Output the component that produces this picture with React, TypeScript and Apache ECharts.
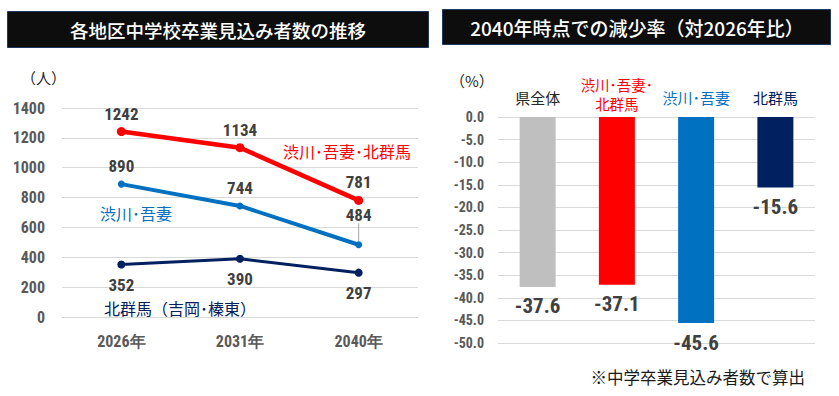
import { useEffect, useRef } from "react";
import * as echarts from "echarts";

// ---- data ----
const years = ["2026年", "2031年", "2040年"];
const seriesNames = ["渋川･吾妻･北群馬", "渋川･吾妻", "北群馬（吉岡･榛東）"];
const valuesAll = [1242, 1134, 781];
const valuesShibukawa = [890, 744, 484];
const valuesKitaGunma = [352, 390, 297];

const regions = ["県全体", "渋川･吾妻･\n北群馬", "渋川･吾妻", "北群馬"];
const declineRates = [-37.6, -37.1, -45.6, -15.6];

const RED = "#FF0000";
const BLUE = "#0070C0";
const NAVY = "#002060";
const GRAY = "#BFBFBF";
const barColors = [GRAY, RED, BLUE, NAVY];

const NUM = "'Roboto Condensed', Roboto, sans-serif";
const JP = "'Noto Sans CJK JP', sans-serif";

export default function App() {
  const ref = useRef<HTMLDivElement>(null);
  useEffect(() => {
    document.body.style.margin = "0";
    const chart = echarts.init(ref.current!, null, { renderer: "svg" });
    const numLabel = {
      show: true,
      color: "#404040",
      fontFamily: NUM,
      fontWeight: "bold",
      fontSize: 17,
    };
    const option: any = {
      animation: false,
      textStyle: { fontFamily: JP },
      graphic: [
        {
          type: "rect",
          shape: { x: 7.5, y: 11.5, width: 421, height: 36 },
          style: { fill: "#0D0D0D", stroke: "#1F3864", lineWidth: 1 },
        },
        {
          type: "text",
          x: 218,
          y: 29.5,
          style: {
            text: "各地区中学校卒業見込み者数の推移",
            fill: "#FFFFFF",
            font: `500 18.5px ${JP}`,
            textAlign: "center",
            textVerticalAlign: "middle",
          },
        },
        {
          type: "rect",
          shape: { x: 442.5, y: 9.5, width: 388, height: 35 },
          style: { fill: "#0D0D0D", stroke: "#1F3864", lineWidth: 1 },
        },
        {
          type: "text",
          x: 637,
          y: 27,
          style: {
            text: "2040年時点での減少率（対2026年比）",
            fill: "#FFFFFF",
            font: `500 19px ${JP}`,
            textAlign: "center",
            textVerticalAlign: "middle",
          },
        },
        {
          type: "text",
          x: 21,
          y: 77,
          style: { text: "（人）", fill: "#262626", font: `15px ${JP}`, textVerticalAlign: "middle" },
        },
        {
          type: "text",
          x: 450,
          y: 80,
          style: { text: "（%）", fill: "#262626", font: `15px ${JP}`, textVerticalAlign: "middle" },
        },
        {
          type: "text",
          x: 283,
          y: 151,
          style: { text: seriesNames[0], fill: RED, font: `16px ${JP}`, textVerticalAlign: "middle" },
        },
        {
          type: "text",
          x: 100,
          y: 213,
          style: { text: seriesNames[1], fill: BLUE, font: `16px ${JP}`, textVerticalAlign: "middle" },
        },
        {
          type: "text",
          x: 104,
          y: 308,
          style: { text: seriesNames[2], fill: NAVY, font: `16px ${JP}`, textVerticalAlign: "middle" },
        },
        {
          type: "text",
          x: 805,
          y: 377,
          style: {
            text: "※中学卒業見込み者数で算出",
            fill: "#1A1A1A",
            font: `16.5px ${JP}`,
            textAlign: "right",
            textVerticalAlign: "middle",
          },
        },
      ],
      grid: [
        { left: 62, top: 108, width: 356, height: 209 },
        { left: 498, top: 117, width: 317, height: 226 },
      ],
      xAxis: [
        {
          gridIndex: 0,
          type: "category",
          data: years,
          axisLine: { show: false },
          axisTick: { show: false },
          axisLabel: { color: "#595959", fontSize: 16, fontWeight: "bold", fontFamily: NUM, margin: 16 },
        },
        {
          gridIndex: 1,
          type: "category",
          position: "top",
          data: regions,
          axisLine: { show: false },
          axisTick: { show: false },
          axisLabel: {
            interval: 0,
            margin: 4,
            formatter: (v: string, i: number) => `{c${i}|${v}}`,
            rich: {
              c0: { color: "#262626", fontSize: 15, lineHeight: 18, padding: [0, 0, 14, 0], fontFamily: JP },
              c1: { color: RED, fontSize: 14.5, lineHeight: 19, fontFamily: JP },
              c2: { color: BLUE, fontSize: 15, lineHeight: 18, padding: [0, 0, 14, 0], fontFamily: JP },
              c3: { color: NAVY, fontSize: 15, lineHeight: 18, padding: [0, 0, 14, 0], fontFamily: JP },
            },
          },
        },
      ],
      yAxis: [
        {
          gridIndex: 0,
          type: "value",
          min: 0,
          max: 1400,
          interval: 200,
          axisLabel: {
            color: "#595959",
            fontSize: 16,
            fontWeight: "bold",
            fontFamily: NUM,
            margin: 17,
            formatter: (v: number) => String(v),
          },
          splitLine: { lineStyle: { color: "#D9D9D9" } },
        },
        {
          gridIndex: 1,
          type: "value",
          min: -50,
          max: 0,
          interval: 5,
          axisLabel: {
            color: "#595959",
            fontSize: 14,
            fontWeight: "bold",
            fontFamily: NUM,
            margin: 14,
            formatter: (v: number) => v.toFixed(1),
          },
          splitLine: { lineStyle: { color: "#D9D9D9" } },
        },
      ],
      series: [
        {
          type: "line",
          name: seriesNames[0],
          xAxisIndex: 0,
          yAxisIndex: 0,
          data: valuesAll,
          symbol: "circle",
          symbolSize: 9,
          itemStyle: { color: RED },
          lineStyle: { color: RED, width: 4.5 },
          label: { ...numLabel, position: "top", distance: 5 },
        },
        {
          type: "line",
          name: seriesNames[1],
          xAxisIndex: 0,
          yAxisIndex: 0,
          data: valuesShibukawa.map((v, i) =>
            i === 2
              ? { value: v, label: { distance: 16 }, labelLine: { show: true, lineStyle: { color: "#A6A6A6", width: 1 } } }
              : v
          ),
          symbol: "circle",
          symbolSize: 7,
          itemStyle: { color: BLUE },
          lineStyle: { color: BLUE, width: 4 },
          label: { ...numLabel, position: "top", distance: 6 },
          labelLine: { show: false },
          labelLayout: (p: any) => (p.dataIndex === 2 ? { dy: -2 } : {}),
        },
        {
          type: "line",
          name: seriesNames[2],
          xAxisIndex: 0,
          yAxisIndex: 0,
          data: valuesKitaGunma,
          symbol: "circle",
          symbolSize: 8,
          itemStyle: { color: NAVY },
          lineStyle: { color: NAVY, width: 3 },
          label: { ...numLabel, position: "bottom", distance: 8 },
        },
        {
          type: "bar",
          xAxisIndex: 1,
          yAxisIndex: 1,
          barWidth: 36,
          data: declineRates.map((v, i) => ({ value: v, itemStyle: { color: barColors[i] } })),
          label: {
            show: true,
            position: "bottom",
            distance: 9,
            color: "#404040",
            fontFamily: NUM,
            fontWeight: "bold",
            fontSize: 21,
            formatter: (p: any) => p.value.toFixed(1),
          },
        },
      ],
    };
    chart.setOption(option);
    return () => chart.dispose();
  }, []);
  return <div ref={ref} style={{ width: 839, height: 396 }} />;
}
